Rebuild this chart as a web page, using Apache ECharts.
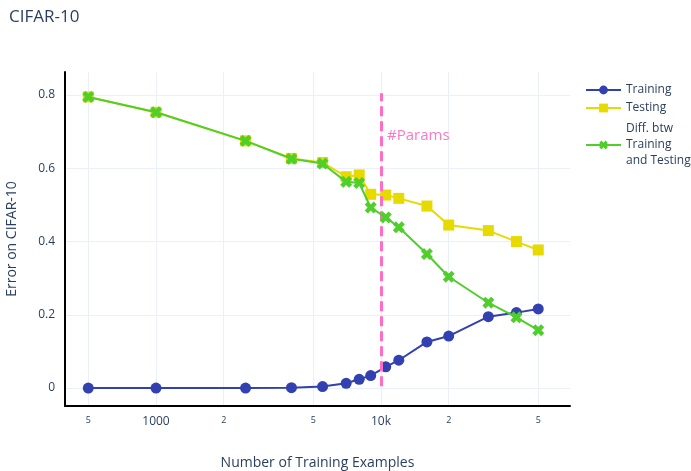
<!DOCTYPE html>
<html>
<head>
<meta charset="utf-8">
<script src="https://cdn.jsdelivr.net/npm/echarts@6/dist/echarts.min.js"></script>
<style>
  html, body { margin: 0; padding: 0; background: #fff; }
  #chart { width: 691px; height: 471px; }
</style>
</head>
<body>
<div id="chart"></div>
<script>
// Training-set sizes (log scale on x)
const trainSizes = [500, 1000, 2500, 4000, 5500, 7000, 8000, 9000, 10500, 12000, 16000, 20000, 30000, 40000, 50000];
// Error rates
const trainingErr = [0.0, 0.0, 0.0, 0.001, 0.004, 0.013, 0.024, 0.034, 0.058, 0.076, 0.126, 0.142, 0.195, 0.206, 0.216];
const testingErr  = [0.795, 0.753, 0.675, 0.627, 0.616, 0.577, 0.582, 0.529, 0.527, 0.518, 0.497, 0.445, 0.430, 0.400, 0.377];
const diffErr     = [0.795, 0.753, 0.675, 0.626, 0.613, 0.563, 0.560, 0.493, 0.466, 0.439, 0.366, 0.304, 0.233, 0.193, 0.158];
// Axis ticks
const xTicks = [500, 1000, 2000, 5000, 10000, 20000, 50000];
const yTicks = [0, 0.2, 0.4, 0.6, 0.8];
// Number of model parameters marker
const paramsX = 10000;
const paramsLabel = '#Params';

const FONT = '"Open Sans", "Noto Sans", sans-serif';
const INK = '#2a3f5f';
const GRID = '#ebf0f8';

const xCross = 'path://M0,2.6 L2.6,0 L5,2.4 L7.4,0 L10,2.6 L7.6,5 L10,7.4 L7.4,10 L5,7.6 L2.6,10 L0,7.4 L2.4,5 Z';

const pair = (ys) => trainSizes.map((x, i) => [x, ys[i]]);

function xLabel(v) {
  if (v === 1000) return '{big|1000}';
  if (v === 10000) return '{big|10k}';
  return '{small|' + String(v).charAt(0) + '}';
}

const legendText = { fontFamily: FONT, fontSize: 12, color: INK, lineHeight: 16 };

const chart = echarts.init(document.getElementById('chart'), null, { renderer: 'canvas' });
chart.setOption({
  animation: false,
  backgroundColor: '#fff',
  title: {
    text: 'CIFAR-10',
    left: 9, top: 9, padding: 0,
    textStyle: { fontFamily: FONT, fontSize: 17, fontWeight: 'normal', color: INK }
  },
  grid: { left: 65, right: 121, top: 72, bottom: 65, outerBoundsMode: 'none', containLabel: false },
  legend: [{
    orient: 'vertical',
    left: 585, top: 82, padding: 0,
    itemWidth: 35, itemHeight: 11, itemGap: 2,
    data: ['Training', 'Testing'],
    textStyle: legendText
  }, {
    orient: 'vertical',
    left: 585, top: 121, padding: 0,
    itemWidth: 35, itemHeight: 11,
    data: ['Diff. btw\nTraining\nand Testing'],
    textStyle: legendText
  }],
  xAxis: {
    type: 'log',
    logBase: 10,
    min: 394, max: 69200,
    name: 'Number of Training Examples',
    nameLocation: 'middle',
    nameGap: 50,
    nameTextStyle: { fontFamily: FONT, fontSize: 14, color: INK },
    axisLine: { show: true, onZero: false, lineStyle: { color: '#000', width: 2 } },
    axisTick: { show: false, customValues: xTicks },
    axisLabel: {
      customValues: xTicks,
      margin: 10,
      formatter: xLabel,
      rich: {
        big: { fontFamily: FONT, fontSize: 12, color: INK },
        small: { fontFamily: FONT, fontSize: 9, color: INK, padding: [0, 0, 4, 0] }
      }
    },
    splitLine: { show: true, lineStyle: { color: GRID, width: 1 } }
  },
  yAxis: {
    type: 'value',
    min: -0.049, max: 0.863,
    name: 'Error on CIFAR-10',
    nameLocation: 'middle',
    nameGap: 46,
    nameTextStyle: { fontFamily: FONT, fontSize: 14, color: INK },
    axisLine: { show: true, onZero: false, lineStyle: { color: '#000', width: 2 } },
    axisTick: { show: false, customValues: yTicks },
    axisLabel: {
      customValues: yTicks,
      margin: 10,
      fontFamily: FONT, fontSize: 12, color: INK,
      formatter: (v) => (v === 0 ? '0' : String(+v.toFixed(1)))
    },
    splitLine: { show: true, lineStyle: { color: GRID, width: 1 } }
  },
  series: [{
    name: 'Training',
    type: 'line',
    data: pair(trainingErr),
    symbol: 'circle', symbolSize: 11,
    itemStyle: { color: '#3240b0' },
    lineStyle: { color: '#3240b0', width: 2 },
    z: 3,
    markLine: {
      silent: true,
      symbol: 'none',
      label: { show: false },
      lineStyle: { color: '#ff6ec4', width: 3, type: [10, 5] },
      data: [[{ coord: [paramsX, 0.005] }, { coord: [paramsX, 0.805] }]]
    },
    markPoint: {
      silent: true,
      symbol: 'circle', symbolSize: 0,
      label: {
        show: true, position: 'right', distance: 6,
        formatter: paramsLabel,
        fontFamily: FONT, fontSize: 15, color: '#ff77c4'
      },
      data: [{ coord: [paramsX, 0.69] }]
    }
  }, {
    name: 'Testing',
    type: 'line',
    data: pair(testingErr),
    symbol: 'rect', symbolSize: 11,
    itemStyle: { color: '#e6da00' },
    lineStyle: { color: '#e6da00', width: 2 },
    z: 4
  }, {
    name: 'Diff. btw\nTraining\nand Testing',
    type: 'line',
    data: pair(diffErr),
    symbol: xCross, symbolSize: 12,
    itemStyle: { color: '#4fcf2a' },
    lineStyle: { color: '#4fcf2a', width: 2 },
    z: 5
  }]
});
</script>
</body>
</html>
